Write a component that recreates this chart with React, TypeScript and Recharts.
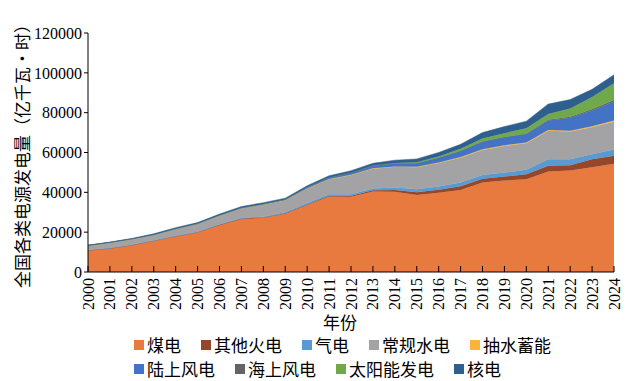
import React from 'react';
import { AreaChart, Area, XAxis, YAxis } from 'recharts';

// 全国各类电源发电量，单位：亿千瓦·时
const years = [
  '2000', '2001', '2002', '2003', '2004', '2005', '2006', '2007', '2008', '2009',
  '2010', '2011', '2012', '2013', '2014', '2015', '2016', '2017', '2018', '2019',
  '2020', '2021', '2022', '2023', '2024',
];
const coal = [10800, 11800, 13400, 15600, 17800, 19800, 23500, 26600, 27200, 29300, 33600, 37900, 37800, 40400, 40300, 38700, 39800, 41200, 44900, 45900, 46600, 50400, 50900, 52600, 54300];
const otherThermal = [100, 100, 100, 150, 200, 200, 200, 200, 200, 200, 300, 400, 500, 600, 900, 1300, 1500, 1800, 1900, 2000, 2500, 2900, 2700, 4000, 4100];
const gas = [100, 100, 150, 150, 200, 200, 300, 300, 400, 500, 700, 700, 800, 900, 1200, 1500, 1600, 1900, 1900, 2000, 2200, 3300, 3000, 2500, 3100];
const hydro = [2300, 2800, 2900, 2800, 3500, 4000, 4400, 5000, 6100, 6000, 7400, 7600, 9600, 10000, 10400, 11100, 11800, 12500, 12600, 13400, 13400, 14300, 13900, 13600, 14000];
const pumped = [20, 30, 40, 50, 60, 70, 80, 60, 80, 100, 100, 100, 100, 150, 200, 200, 250, 300, 300, 300, 300, 400, 450, 500, 600];
const onshoreWind = [10, 10, 10, 10, 10, 20, 30, 60, 130, 280, 450, 700, 1000, 1300, 1500, 1800, 2400, 3000, 3800, 4000, 4300, 4800, 6500, 7900, 9500];
const offshoreWind = [0, 0, 0, 0, 0, 0, 0, 0, 0, 0, 10, 20, 30, 40, 50, 60, 70, 80, 100, 120, 150, 300, 500, 600, 700];
const solar = [0, 0, 0, 0, 0, 0, 0, 0, 0, 0, 10, 30, 40, 100, 200, 400, 600, 1100, 1500, 2000, 2700, 2900, 4100, 6200, 8500];
const nuclear = [170, 180, 250, 430, 500, 530, 550, 620, 690, 700, 750, 870, 980, 1100, 1400, 1700, 2000, 2200, 3000, 3300, 3600, 5000, 4500, 3800, 4200];
const yTicks = [0, 20000, 40000, 60000, 80000, 100000, 120000];

const series = [
  { key: 'coal', name: '煤电', values: coal, color: '#E8793F' },
  { key: 'otherThermal', name: '其他火电', values: otherThermal, color: '#96472A' },
  { key: 'gas', name: '气电', values: gas, color: '#5A9AD2' },
  { key: 'hydro', name: '常规水电', values: hydro, color: '#A3A3A5' },
  { key: 'pumped', name: '抽水蓄能', values: pumped, color: '#F6B63A' },
  { key: 'onshoreWind', name: '陆上风电', values: onshoreWind, color: '#4472C4' },
  { key: 'offshoreWind', name: '海上风电', values: offshoreWind, color: '#646464' },
  { key: 'solar', name: '太阳能发电', values: solar, color: '#6FA94C' },
  { key: 'nuclear', name: '核电', values: nuclear, color: '#2F5F8E' },
];

const data = years.map((year, i) => {
  const row: Record<string, string | number> = { year };
  series.forEach(s => { row[s.key] = s.values[i]; });
  return row;
});

const legendRows = [series.slice(0, 5), series.slice(5)];

const serif = '"Liberation Serif", "DejaVu Serif", serif';
const cjk = '"Noto Sans CJK SC", sans-serif';

// x ticks point up into the plot, labels read bottom to top
const YearTick = (props: any) => {
  const { x, y, payload } = props;
  return (
    <g>
      <line x1={x} y1={y} x2={x} y2={y - 6} stroke="#000" />
      <text
        x={x}
        y={y + 6}
        transform={`rotate(-90, ${x}, ${y + 6})`}
        textAnchor="end"
        dominantBaseline="central"
        fontFamily={serif}
        fontSize={16}
        fill="#000"
      >
        {payload.value}
      </text>
    </g>
  );
};

export default function App() {
  return (
    <div style={{ position: 'absolute', left: 0, top: 0, width: 632, height: 381, background: '#fff' }}>
      <AreaChart width={632} height={381} data={data} margin={{ top: 33, right: 18, left: 8, bottom: 64 }}>
        <XAxis
          dataKey="year"
          interval={0}
          height={45}
          tickSize={0}
          tickMargin={0}
          tickLine={false}
          stroke="#000"
          tick={<YearTick />}
        />
        <YAxis
          width={80}
          domain={[0, 120000]}
          ticks={yTicks}
          interval={0}
          tickSize={4}
          tickMargin={2}
          stroke="#000"
          tick={{ fill: '#000', fontSize: 16, fontFamily: serif }}
        />
        {series.map(s => (
          <Area
            key={s.key}
            type="linear"
            dataKey={s.key}
            name={s.name}
            stackId="1"
            stroke={s.color}
            strokeWidth={0.5}
            fill={s.color}
            fillOpacity={1}
            isAnimationActive={false}
          />
        ))}
      </AreaChart>

      <div
        style={{
          position: 'absolute', left: 22, top: 152,
          transform: 'translate(-50%, -50%) rotate(-90deg)',
          whiteSpace: 'nowrap', fontFamily: cjk, fontSize: 17, lineHeight: '18px', color: '#000',
        }}
      >
        全国各类电源发电量（亿千瓦·时）
      </div>

      <div
        style={{
          position: 'absolute', left: 340, top: 322,
          transform: 'translate(-50%, -50%)',
          fontFamily: cjk, fontSize: 17, lineHeight: '18px', color: '#000',
        }}
      >
        年份
      </div>

      <div style={{ position: 'absolute', left: 134, top: 333, fontFamily: cjk, fontSize: 17, color: '#000' }}>
        {legendRows.map((row, r) => (
          <div key={r} style={{ display: 'flex', gap: 20, height: 24, alignItems: 'center' }}>
            {row.map(s => (
              <div key={s.key} style={{ display: 'flex', alignItems: 'center', gap: 3 }}>
                <span style={{ width: 10, height: 10, background: s.color, display: 'inline-block' }} />
                <span style={{ lineHeight: '20px' }}>{s.name}</span>
              </div>
            ))}
          </div>
        ))}
      </div>
    </div>
  );
}
